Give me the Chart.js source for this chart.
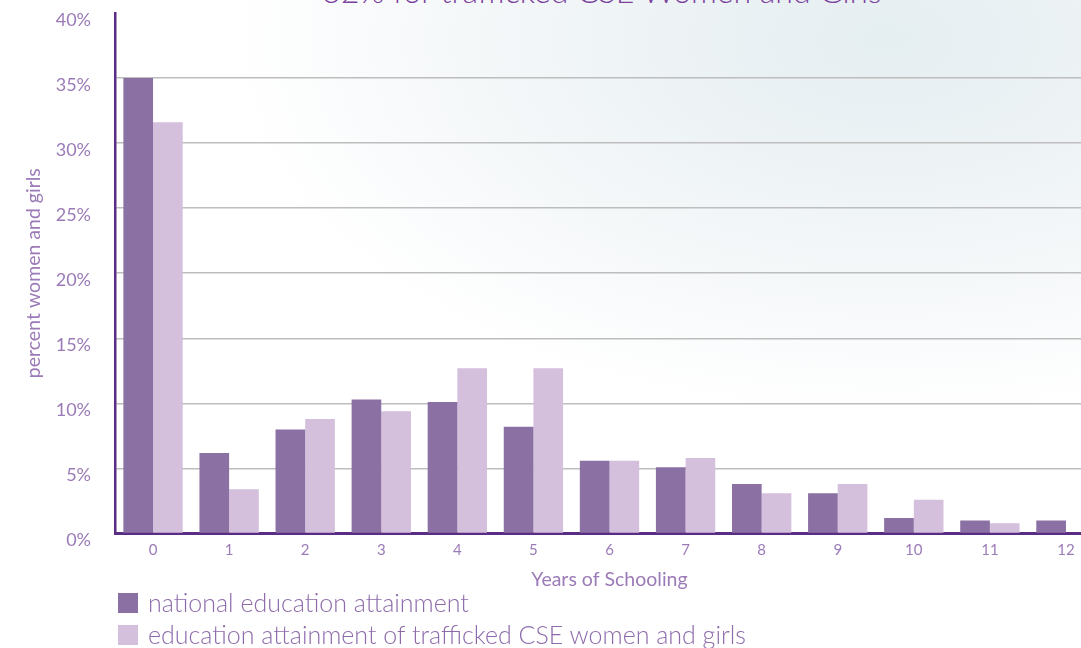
<!DOCTYPE html>
<html>
<head>
<meta charset="utf-8">
<script src="https://cdn.jsdelivr.net/npm/chart.js@4.4.1/dist/chart.umd.min.js"></script>
<style>
  html, body {
    margin: 0;
    padding: 0;
    width: 1081px;
    height: 648px;
    overflow: hidden;
    font-family: Lato, "Open Sans", sans-serif;
    background: radial-gradient(ellipse 800px 460px at 82% 6%, #e5eef1 0%, #eff4f6 35%, #f8fafb 62%, #ffffff 82%);
  }
  #wrap {
    position: relative;
    width: 1081px;
    height: 648px;
  }
  #chartBox {
    position: absolute;
    left: 0;
    top: -22px;
    width: 1104px;
    height: 617px;
  }
  #title {
    position: absolute;
    left: 0;
    width: 1204px;
    top: -25px;
    text-align: center;
    font-size: 32px;
    line-height: 32px;
    font-weight: 300;
    color: #7b3f9e;
    white-space: nowrap;
  }
  .legend {
    position: absolute;
    left: 118px;
    font-size: 25px;
    font-weight: 300;
    color: #8d6bab;
    white-space: nowrap;
  }
  .legend span.box {
    display: inline-block;
    width: 20px;
    height: 20px;
    margin-right: 10px;
    vertical-align: -1px;
  }
</style>
</head>
<body>
<div id="wrap">
  <div id="title">32% for trafficked CSE Women and Girls</div>
  <div id="chartBox"><canvas id="eduChart"></canvas></div>
  <div class="legend" style="top:587px"><span class="box" style="background:#8b71a3"></span>national education attainment</div>
  <div class="legend" style="top:619px"><span class="box" style="background:#d4bfdc"></span>education attainment of trafficked CSE women and girls</div>
</div>
<script>
// Years of schooling categories
const years = ['0', '1', '2', '3', '4', '5', '6', '7', '8', '9', '10', '11', '12'];

// percent women and girls
const nationalValues = [35.0, 6.2, 8.0, 10.3, 10.1, 8.2, 5.6, 5.1, 3.8, 3.1, 1.2, 1.0, 1.0];
const traffickedValues = [31.6, 3.4, 8.8, 9.4, 12.7, 12.7, 5.6, 5.8, 3.1, 3.8, 2.6, 0.8, 0];

const seriesNames = ['national education attainment', 'education attainment of trafficked CSE women and girls'];

const purpleText = '#9b7bb7';
const axisPurple = '#5b2c83';

const ctx = document.getElementById('eduChart').getContext('2d');

new Chart(ctx, {
  type: 'bar',
  data: {
    labels: years,
    datasets: [
      {
        label: seriesNames[0],
        data: nationalValues,
        backgroundColor: '#8b71a3'
      },
      {
        label: seriesNames[1],
        data: traffickedValues,
        backgroundColor: '#d4bfdc'
      }
    ]
  },
  options: {
    responsive: true,
    maintainAspectRatio: false,
    animation: false,
    categoryPercentage: 0.78,
    barPercentage: 1.0,
    layout: {
      padding: { top: 13, right: 0, bottom: 0, left: 0 }
    },
    plugins: {
      legend: { display: false },
      tooltip: { enabled: false }
    },
    scales: {
      x: {
        grid: { display: false },
        border: { color: axisPurple, width: 3 },
        ticks: {
          color: purpleText,
          padding: 0,
          font: { family: 'Lato', size: 15 }
        },
        title: {
          display: true,
          text: 'Years of Schooling',
          color: purpleText,
          padding: { top: 8, bottom: 4 },
          font: { family: 'Lato', size: 19.5 }
        }
      },
      y: {
        min: 0,
        max: 40,
        afterFit: function(scale) {
          scale.width = 115;
        },
        grid: {
          drawTicks: false,
          lineWidth: 1.5,
          color: function(context) {
            const v = context.tick ? context.tick.value : null;
            if (v === 0 || v === 40) return 'rgba(0,0,0,0)';
            return '#bdbdbd';
          }
        },
        border: { color: axisPurple, width: 2.5 },
        ticks: {
          stepSize: 5,
          color: purpleText,
          padding: 24,
          labelOffset: 7,
          font: { family: 'Lato', size: 18 },
          callback: function(value) {
            return value + '%';
          }
        },
        title: {
          display: true,
          text: 'percent women and girls',
          color: purpleText,
          padding: { top: 22, bottom: 4 },
          font: { family: 'Lato', size: 19.5 }
        }
      }
    }
  }
});
</script>
</body>
</html>
